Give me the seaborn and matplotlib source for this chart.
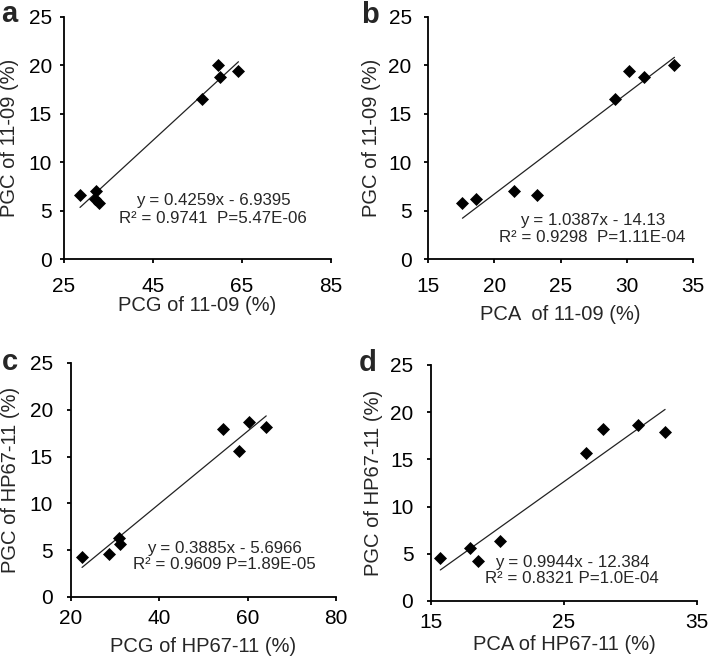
import numpy as np
import pandas as pd
import seaborn as sns
import matplotlib.pyplot as plt

# values
pgc_1109 = [6.65, 7.05, 6.25, 5.8, 16.5, 20.05, 18.8, 19.4]
pcg_1109 = [28.6, 32.1, 32.0, 32.9, 56.1, 59.7, 60.1, 64.2]
pca_1109 = [23.2, 21.5, 18.6, 17.6, 29.1, 33.6, 31.3, 30.2]

pgc_hp = [4.25, 4.55, 6.35, 5.65, 17.9, 15.65, 18.65, 18.2]
pcg_hp = [22.5, 28.5, 30.8, 31.2, 54.4, 58.0, 60.2, 64.2]
pca_hp = [18.5, 15.7, 20.2, 17.9, 32.6, 26.65, 30.6, 27.95]

panel_letters = ['a', 'b', 'c', 'd']
x_labels = ['PCG of 11-09 (%)', 'PCA  of 11-09 (%)', 'PCG of HP67-11 (%)', 'PCA of HP67-11 (%)']
y_labels = ['PGC of 11-09 (%)', 'PGC of 11-09 (%)', 'PGC of HP67-11 (%)', 'PGC of HP67-11 (%)']
x_ticks = [[25, 45, 65, 85], [15, 20, 25, 30, 35], [20, 40, 60, 80], [15, 25, 35]]
eq_text = ['y = 0.4259x - 6.9395', 'y = 1.0387x - 14.13', 'y = 0.3885x - 5.6966', 'y = 0.9944x - 12.384']
r2_text = ['R² = 0.9741  P=5.47E-06', 'R² = 0.9298  P=1.11E-04', 'R² = 0.9609 P=1.89E-05', 'R² = 0.8321 P=1.0E-04']

sns.set_style('ticks')
plt.rcParams['font.family'] = ['Liberation Sans', 'DejaVu Sans']

fig = plt.figure(figsize=(7.09, 6.61), dpi=100)
W, H = 709, 661
# axes boxes in pixels: left, right, top, bottom
boxes = [(64, 331, 17, 259), (428, 693, 17, 259), (71, 336, 363, 597), (431, 697, 365, 601)]
# text positions (axes fraction): x, y eq, y r2
txt_pos = [(0.558, 0.240, 0.169), (0.62, 0.160, 0.090), (0.577, 0.207, 0.137), (0.53, 0.165, 0.096)]
letter_pos = [(1, 22), (361, 23), (2, 370), (359, 371)]
# per panel: x tick pad, x label pad, y tick pad, y label pad
pads = [(10.3, 0.0, 5.6, 6.8), (10.3, 6.3, 8.7, 5.1), (5.3, 7.0, 9.9, 6.8), (5.3, 2.7, 9.7, 4.8)]

data = [(pcg_1109, pgc_1109), (pca_1109, pgc_1109), (pcg_hp, pgc_hp), (pca_hp, pgc_hp)]

for i, (xs, ys) in enumerate(data):
    l, r, t, b = boxes[i]
    ax = fig.add_axes([l / W, (H - b) / H, (r - l) / W, (b - t) / H])
    df = pd.DataFrame({'x': xs, 'y': ys})
    sns.regplot(data=df, x='x', y='y', ax=ax, ci=None, scatter=False, truncate=True,
                line_kws={'color': '#222222', 'lw': 0.9})
    sns.scatterplot(data=df, x='x', y='y', ax=ax, marker='D', s=44, color='black',
                    linewidth=0, zorder=3)
    ax.set_xlim(x_ticks[i][0], x_ticks[i][-1])
    ax.set_ylim(0, 25)
    ax.set_xticks(x_ticks[i])
    ax.set_yticks([0, 5, 10, 15, 20, 25])
    sns.despine(ax=ax)
    for s in ['left', 'bottom']:
        ax.spines[s].set_linewidth(1.3)
        ax.spines[s].set_color('black')
    xp, xlp, yp, ylp = pads[i]
    ax.tick_params(axis='both', length=3, width=1.3, labelsize=15, colors='black')
    ax.tick_params(axis='x', pad=xp)
    ax.tick_params(axis='y', pad=yp)
    ax.set_xlabel(x_labels[i], fontsize=14.5, labelpad=xlp)
    ax.set_ylabel(y_labels[i], fontsize=14.5, labelpad=ylp)
    tx, ty1, ty2 = txt_pos[i]
    ax.text(tx, ty1, eq_text[i], transform=ax.transAxes, ha='center', va='center', fontsize=12.2)
    ax.text(tx, ty2, r2_text[i], transform=ax.transAxes, ha='center', va='center', fontsize=12.2)
    lx, ly = letter_pos[i]
    fig.text(lx / W, 1 - ly / H, panel_letters[i], fontsize=21, fontweight='bold',
             ha='left', va='baseline')

plt.savefig('out.png', dpi=100)
